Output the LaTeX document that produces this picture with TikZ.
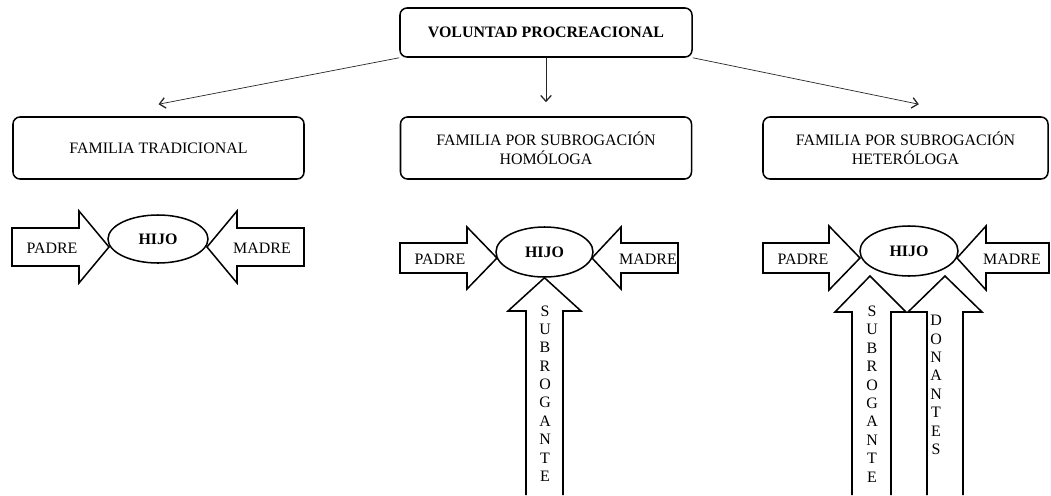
\documentclass[tikz,border=0pt]{standalone}
\usepackage{fontspec}
\setmainfont{Liberation Serif}
\usepackage{tikz}
\usetikzlibrary{
    shapes.geometric,
    arrows.meta,
    positioning
}
\newcommand\letraesq{\fontsize{13.6}{16}\selectfont}
\tikzset{
    % Recuadro de cada familia
    familiabox/.style={
        rectangle,
        rounded corners=6pt,
        draw=black,
        line width=1.3pt,
        minimum width=8.73cm,
        minimum height=1.86cm,
        align=center,
        font=\letraesq,
        inner sep=3pt
    },
    % Recuadro superior
    titulobox/.style={
        familiabox,
        minimum width=8.76cm,
        minimum height=1.47cm,
        font=\letraesq\bfseries
    },
    % Elipse central
    hijonode/.style={
        ellipse,
        draw=black,
        line width=1.3pt,
        font=\letraesq\bfseries,
        inner sep=0pt
    },
    % Flecha fina entre recuadros
    ramaarrow/.style={
        -{Straight Barb[length=5pt,width=9pt,line width=1.1pt]},
        line width=0.6pt,
        color=black!85
    },
    % Flecha de bloque
    bloque/.style={
        draw=black,
        line width=1.3pt,
        line join=miter
    },
    % Texto dentro de las flechas
    rotulo/.style={
        font=\letraesq,
        inner sep=0pt
    },
    % Letras apiladas
    letras/.style={
        font=\fontsize{13.6}{15.7}\selectfont,
        align=center,
        inner sep=0pt
    }
}

\begin{document}
\begin{tikzpicture}[x=0.03cm, y=-0.03cm]
    \useasboundingbox (0,0) rectangle (1051,495);

    % Recuadros
    \node[titulobox] (voluntad) at (546,32.5) {VOLUNTAD PROCREACIONAL};
    \node[familiabox] (tradicional) at (158.5,148) {FAMILIA TRADICIONAL};
    \node[familiabox] (homologa) at (546,148) {FAMILIA POR SUBROGACIÓN\\HOMÓLOGA};
    \node[familiabox, minimum width=8.55cm] (heterologa) at (905.5,148) {FAMILIA POR SUBROGACIÓN\\HETERÓLOGA};

    % Ramas
    \draw[ramaarrow] (voluntad.south west) -- ([yshift=0.36cm]tradicional.north);
    \draw[ramaarrow] (voluntad.south) -- ([yshift=0.42cm]homologa.north);
    \draw[ramaarrow] (voluntad.south east) -- ([xshift=0.4cm,yshift=0.36cm]heterologa.north);

    % Hijos
    \node[hijonode, minimum width=3cm, minimum height=1.44cm] (hijoA) at (158,239) {HIJO};
    \node[hijonode, minimum width=2.91cm, minimum height=1.5cm] (hijoB) at (544.5,252) {HIJO};
    \node[hijonode, minimum width=2.94cm, minimum height=1.5cm] (hijoC) at (909,251) {HIJO};

    % Familia tradicional
    \draw[bloque] (12,228) -- (79,228) -- (79,211) -- (109,247) -- (79,283) -- (79,266) -- (12,266) -- cycle;
    \node[rotulo] (padreA) at (52,248) {PADRE};
    \draw[bloque] (304,228) -- (237,228) -- (237,211) -- (207,247) -- (237,283) -- (237,266) -- (304,266) -- cycle;
    \node[rotulo] (madreA) at (262,248) {MADRE};

    % Subrogacion homologa
    \draw[bloque] (400,243) -- (467,243) -- (467,227) -- (497,258) -- (467,289) -- (467,273) -- (400,273) -- cycle;
    \node[rotulo] (padreB) at (440,259) {PADRE};
    \draw[bloque] (678,243) -- (621,243) -- (621,227) -- (592,258) -- (621,289) -- (621,273) -- (678,273) -- cycle;
    \node[rotulo] (madreB) at (648,259) {MADRE};
    \draw[bloque] (526,495) -- (526,311) -- (508,311) -- (hijoB.south) -- (581,311) -- (563,311) -- (563,495);
    \node[letras] (subroganteB) at (545,393.5) {S\\U\\B\\R\\O\\G\\A\\N\\T\\E};

    % Subrogacion heterologa
    \draw[bloque] (763,243) -- (829,243) -- (829,226) -- (860,258) -- (829,290) -- (829,273) -- (763,273) -- cycle;
    \node[rotulo] (padreC) at (803,259) {PADRE};
    \draw[bloque] (1049,243) -- (986,243) -- (986,226) -- (957,258) -- (986,290) -- (986,273) -- (1049,273) -- cycle;
    \node[rotulo] (madreC) at (1012,259) {MADRE};
    \draw[bloque] (852,495) -- (852,312) -- (835,312) -- (870,276) -- (906,312) -- (891,312) -- (891,495);
    \node[letras] (subroganteC) at (872,394) {S\\U\\B\\R\\O\\G\\A\\N\\T\\E};
    \draw[bloque] (927,495) -- (927,312) -- (908,312) -- (945,276) -- (982,312) -- (963,312) -- (963,495);
    \node[letras] (donantesC) at (936,385) {D\\O\\N\\A\\N\\T\\E\\S};

\end{tikzpicture}
\end{document}
